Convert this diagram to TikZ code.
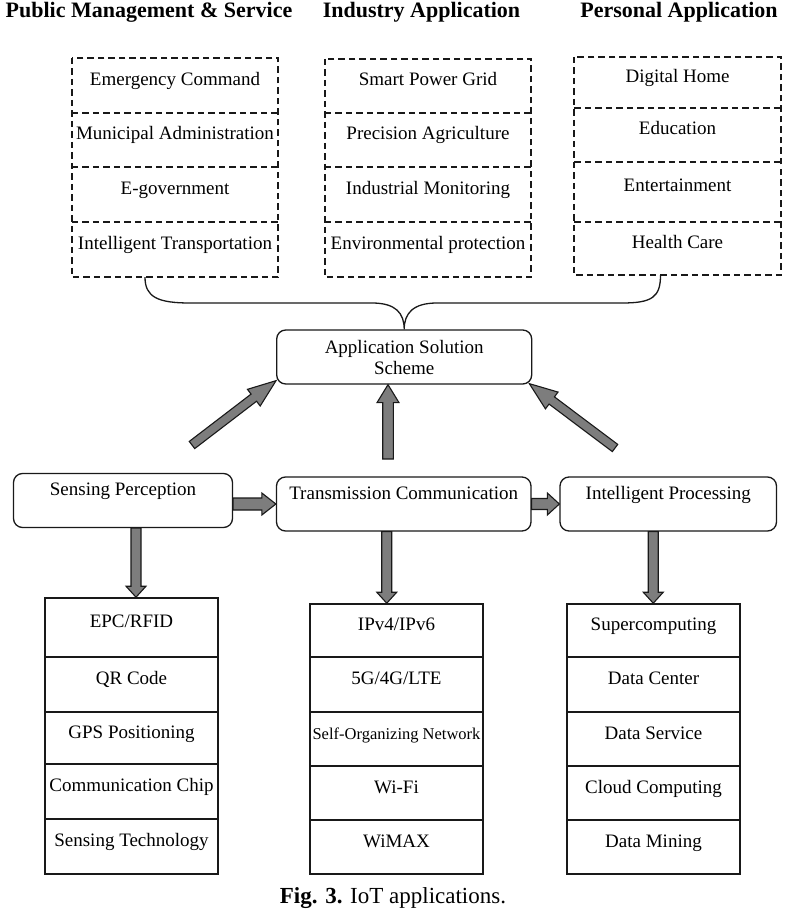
\documentclass[tikz,border=0pt]{standalone}
\usepackage{fontspec}
\setmainfont{Liberation Serif}
\usetikzlibrary{calc}
\definecolor{arrowfill}{RGB}{125,125,125}
\definecolor{ink}{RGB}{25,25,25}
% block arrow: tail, tip, shaft half-width, head half-width, head length
\newcommand\fatarrow[5]{%
  \coordinate (fabase) at ($#2!#5!#1$);
  \draw[fat] ($#1!#3!90:#2$) -- ($(fabase)!#3!90:#2$) -- ($(fabase)!#4!90:#2$) -- #2
    -- ($(fabase)!#4!-90:#2$) -- ($(fabase)!#3!-90:#2$) -- ($#1!#3!-90:#2$) -- cycle;}
% dashed stack of four cells: outline plus three dividers
\newcommand\dashstack[4]{%
  \draw[dashline] (#1.north west) rectangle (#4.south east);
  \draw[dashline] (#1.south west) -- (#1.south east);
  \draw[dashline] (#2.south west) -- (#2.south east);
  \draw[dashline] (#3.south west) -- (#3.south east);}
\begin{document}
\begin{tikzpicture}[x=1pt,y=-1pt,
  tx/.style={font=\fontsize{19}{21}\selectfont, text=black},
  cell/.style={tx, inner sep=0pt, text height=10pt, text depth=10pt},
  dcell/.style={cell, minimum width=206pt},
  dashline/.style={draw=ink, line width=1.7pt, dash pattern=on 6.5pt off 4pt},
  scell/.style={cell, draw=ink, line width=1.6pt, minimum width=173pt},
  stage/.style={draw=ink, line width=1.3pt, rounded corners=9pt, inner sep=0pt, tx,
    text height=10pt, text depth=20pt, minimum height=54pt},
  heading/.style={font=\bfseries\fontsize{22}{26}\selectfont, inner sep=0pt},
  fat/.style={fill=arrowfill, draw=ink, line width=1.1pt, line join=miter},
  brace/.style={draw=ink, line width=1.3pt}
]
\useasboundingbox (0,0) rectangle (784,912);

% column headings
\node[heading] (h1) at (149,12) {Public Management \& Service};
\node[heading] (h2) at (421.5,12) {Industry Application};
\node[heading] (h3) at (679,12) {Personal Application};

% application fields (dashed)
\node[dcell, minimum height=55pt] (pm1) at (175,85.5) {Emergency Command};
\node[dcell, minimum height=54pt] (pm2) at (175,140) {Municipal Administration};
\node[dcell, minimum height=55pt] (pm3) at (175,194.5) {E-government};
\node[dcell, minimum height=55pt] (pm4) at (175,249.5) {Intelligent Transportation};
\dashstack{pm1}{pm2}{pm3}{pm4}

\node[dcell, minimum height=54pt] (ia1) at (428,86) {Smart Power Grid};
\node[dcell, minimum height=54pt] (ia2) at (428,140) {Precision Agriculture};
\node[dcell, minimum height=55pt] (ia3) at (428,194.5) {Industrial Monitoring};
\node[dcell, minimum height=55pt] (ia4) at (428,249.5) {Environmental protection};
\dashstack{ia1}{ia2}{ia3}{ia4}

\node[dcell, minimum height=51pt] (pa1) at (677.5,82.5) {Digital Home};
\node[dcell, minimum height=54pt] (pa2) at (677.5,135) {Education};
\node[dcell, minimum height=60pt] (pa3) at (677.5,192) {Entertainment};
\node[dcell, minimum height=53pt] (pa4) at (677.5,248.5) {Health Care};
\dashstack{pa1}{pa2}{pa3}{pa4}

% solution scheme
\node[draw=ink, line width=1.3pt, rounded corners=9pt, tx, align=center,
  minimum width=255pt, minimum height=54pt, inner sep=0pt] (app) at (404.2,357)
  {Application Solution\\Scheme};

% brace gathering the three fields
\coordinate (bl) at ($(pm4.south)+(-30,0)$);
\coordinate (br) at ($(pa4.south)+(-17,0)$);
\coordinate (blh) at (190,303);
\coordinate (bm) at (372,303);
\coordinate (bn) at (437,303);
\coordinate (brh) at (622,303);
\draw[brace] (bl) .. controls +(0,20) and +(-32,0) .. (blh) -- (bm)
  .. controls +(24,0) and +(0,-16) .. (app.north)
  .. controls +(0,-16) and +(-24,0) .. (bn) -- (brh)
  .. controls +(30,0) and +(0,22) .. (br);

% three stages
\node[stage, minimum width=219pt] (sp) at (123,500.5) {Sensing Perception};
\node[stage, minimum width=254.5pt] (tc) at (403.75,504) {Transmission Communication};
\node[stage, minimum width=216.5pt] (ip) at (668.25,504) {Intelligent Processing};

% technology stacks
\node[scell, minimum height=59pt] (st1) at (131.5,627.5) {EPC/RFID};
\node[scell, minimum height=55pt] (st2) at (131.5,684.5) {QR Code};
\node[scell, minimum height=52pt] (st3) at (131.5,738) {GPS Positioning};
\node[scell, minimum height=55pt] (st4) at (131.5,791.5) {Communication Chip};
\node[scell, minimum height=55pt] (st5) at (131.5,846.5) {Sensing Technology};

\node[scell, minimum height=53pt] (tm1) at (396.5,630.5) {IPv4/IPv6};
\node[scell, minimum height=55pt] (tm2) at (396.5,684.5) {5G/4G/LTE};
\node[scell, minimum height=54pt, font=\fontsize{16.5}{20}\selectfont] (tm3) at (396.5,739) {Self-Organizing Network};
\node[scell, minimum height=54pt] (tm4) at (396.5,793) {Wi-Fi};
\node[scell, minimum height=54pt] (tm5) at (396.5,847) {WiMAX};

\node[scell, minimum height=53pt] (ic1) at (653.5,630.5) {Supercomputing};
\node[scell, minimum height=55pt] (ic2) at (653.5,684.5) {Data Center};
\node[scell, minimum height=54pt] (ic3) at (653.5,739) {Data Service};
\node[scell, minimum height=54pt] (ic4) at (653.5,793) {Cloud Computing};
\node[scell, minimum height=54pt] (ic5) at (653.5,847) {Data Mining};

% arrows into the solution scheme
\coordinate (a1t) at (192,445);
\coordinate (a1h) at ($(app.south west)+(0,-4)$);
\coordinate (a2t) at (388,459);
\coordinate (a2h) at (app.south -| a2t);
\coordinate (a3t) at (615,448);
\coordinate (a3h) at ($(app.south east)+(-3,-1)$);
\fatarrow{(a1t)}{(a1h)}{4.5pt}{10.5pt}{28pt}
\fatarrow{(a2t)}{(a2h)}{5.3pt}{11pt}{18pt}
\fatarrow{(a3t)}{(a3h)}{4.5pt}{10.5pt}{28pt}

% arrows between stages
\coordinate (a4t) at (sp.east |- tc.west);
\fatarrow{(a4t)}{(tc.west)}{6pt}{11pt}{14pt}
\fatarrow{(tc.east)}{(ip.west)}{5.5pt}{11pt}{12pt}

% arrows down to the technology stacks
\coordinate (d1t) at ($(sp.south)+(13,0)$);
\coordinate (d1h) at (d1t |- st1.north);
\coordinate (d2t) at ($(tc.south)+(-17,0)$);
\coordinate (d2h) at (d2t |- tm1.north);
\coordinate (d3t) at ($(ip.south)+(-15,0)$);
\coordinate (d3h) at (d3t |- ic1.north);
\fatarrow{(d1t)}{(d1h)}{5pt}{10pt}{11pt}
\fatarrow{(d2t)}{(d2h)}{5pt}{10pt}{11pt}
\fatarrow{(d3t)}{(d3h)}{5pt}{10pt}{11pt}

% caption
\node[font=\fontsize{23}{26}\selectfont, inner sep=0pt] (cap) at (393,898)
  {\textbf{Fig. 3.} IoT applications.};
\end{tikzpicture}
\end{document}
